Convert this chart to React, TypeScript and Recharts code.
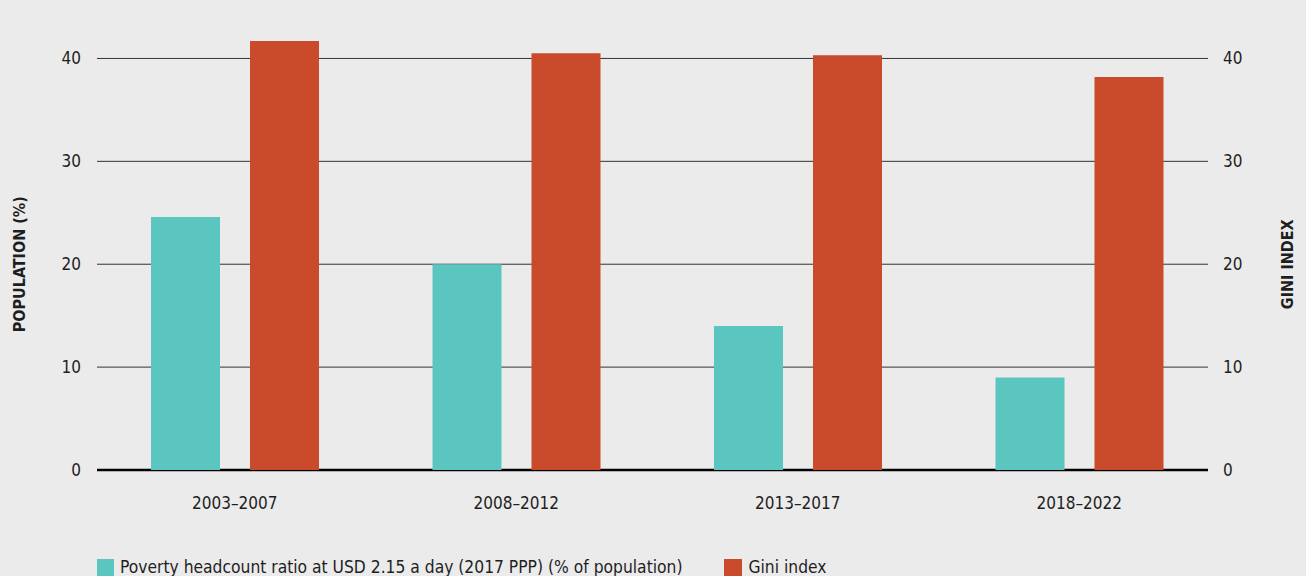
import React from 'react';
import { ComposedChart, Bar, XAxis, YAxis, CartesianGrid, Legend, Label } from 'recharts';

// Data
const periods = ['2003–2007', '2008–2012', '2013–2017', '2018–2022'];
const povertyRatio = [24.6, 20.0, 14.0, 9.0];
const giniIndex = [41.7, 40.5, 40.3, 38.2];
const yTicks = [0, 10, 20, 30, 40];

const POVERTY_LABEL = 'Poverty headcount ratio at USD 2.15 a day (2017 PPP) (% of population)';
const GINI_LABEL = 'Gini index';

const WIDTH = 1306;
const HEIGHT = 576;
const MARGIN = { top: 7, right: 0, bottom: 56, left: 0 };
const X_AXIS_HEIGHT = 50;
const PLOT_TOP = MARGIN.top;
const PLOT_BOTTOM = HEIGHT - MARGIN.bottom - X_AXIS_HEIGHT;

const FONT = '"DejaVu Sans Condensed", "DejaVu Sans", sans-serif';
const TEAL = '#5bc5bf';
const RED = '#c94b2b';
const BG = '#ebebeb';
const TEXT = '#1e1e1e';

const data = periods.map((p, i) => ({
  period: p,
  poverty: povertyRatio[i],
  gini: giniIndex[i],
}));

// grid lines are a bit shorter than the band area in the original, zero line is heavier
const GridLine = (props: any) => {
  const { x1, x2, y1, key } = props;
  if (y1 < PLOT_TOP + 5) return <g key={key} />;
  const isZero = Math.abs(y1 - PLOT_BOTTOM) < 1;
  return (
    <line
      key={key}
      x1={x1 + 3}
      x2={x2 - 12}
      y1={y1}
      y2={y1}
      stroke={isZero ? '#000' : '#333'}
      strokeWidth={isZero ? 2.5 : 1}
    />
  );
};

// axis titles are centred on the 0–40 range, not the full plot height
const axisTitle = (text: string, side: 'left' | 'right') => (props: any) => {
  const { viewBox } = props;
  const cx = side === 'left' ? 20 : 1288;
  const cy = (PLOT_BOTTOM + viewBox.y + (PLOT_BOTTOM - viewBox.y) * (5 / 45)) / 2;
  return (
    <text
      x={cx}
      y={cy}
      transform={`rotate(-90, ${cx}, ${cy})`}
      textAnchor="middle"
      dominantBaseline="central"
      style={{ fontFamily: FONT, fontSize: 16, fontWeight: 700, fill: TEXT }}
    >
      {text}
    </text>
  );
};

const LegendContent = () => (
  <div style={{ display: 'flex', alignItems: 'center', fontFamily: FONT, fontSize: 17.3, color: TEXT, whiteSpace: 'nowrap' }}>
    <span style={{ display: 'inline-block', width: 17, height: 17, background: TEAL, marginRight: 6 }} />
    <span>{POVERTY_LABEL}</span>
    <span style={{ display: 'inline-block', width: 18, height: 17, background: RED, marginLeft: 42, marginRight: 6 }} />
    <span>{GINI_LABEL}</span>
  </div>
);

const App: React.FC = () => {
  const tickStyle = { fontFamily: FONT, fontSize: 17, fill: TEXT };
  return (
    <div style={{ position: 'absolute', left: 0, top: 0, width: WIDTH, height: HEIGHT, background: BG }}>
      <ComposedChart width={WIDTH} height={HEIGHT} data={data} margin={MARGIN} barSize={69} barGap={30}>
        <CartesianGrid yAxisId="left" vertical={false} horizontal={GridLine} />
        <XAxis
          dataKey="period"
          height={X_AXIS_HEIGHT}
          axisLine={false}
          tickLine={false}
          tickSize={0}
          tickMargin={27}
          tick={tickStyle}
        />
        <YAxis
          yAxisId="left"
          orientation="left"
          width={94}
          domain={[0, 45]}
          ticks={yTicks}
          axisLine={false}
          tickLine={false}
          tickSize={0}
          tickMargin={13}
          tick={tickStyle}
        >
          <Label content={axisTitle('POPULATION (%)', 'left')} />
        </YAxis>
        <YAxis
          yAxisId="right"
          orientation="right"
          width={86}
          domain={[0, 45]}
          ticks={yTicks}
          axisLine={false}
          tickLine={false}
          tickSize={0}
          tickMargin={3}
          tick={tickStyle}
        >
          <Label content={axisTitle('GINI INDEX', 'right')} />
        </YAxis>
        <Bar yAxisId="left" dataKey="poverty" name={POVERTY_LABEL} fill={TEAL} isAnimationActive={false} />
        <Bar yAxisId="right" dataKey="gini" name={GINI_LABEL} fill={RED} isAnimationActive={false} />
        <Legend
          layout="vertical"
          align="center"
          verticalAlign="bottom"
          content={<LegendContent />}
          wrapperStyle={{ position: 'absolute', left: 97, top: 557, width: 900, height: 0, overflow: 'visible' }}
        />
      </ComposedChart>
    </div>
  );
};

export default App;
